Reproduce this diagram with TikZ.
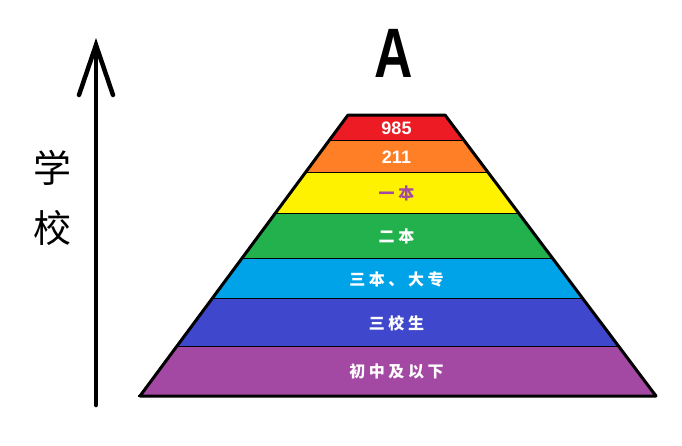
\documentclass[tikz,border=0pt]{standalone}
\usepackage{fontspec}
\setmainfont{Liberation Sans}
\newfontfamily\cjk{Noto Sans CJK SC}
\newfontfamily\cjkwide[LetterSpace=22]{Noto Sans CJK SC}
\usetikzlibrary{arrows.meta}
\definecolor{bandred}{HTML}{ED1C24}
\definecolor{bandorange}{HTML}{FF7F27}
\definecolor{bandyellow}{HTML}{FFF200}
\definecolor{bandgreen}{HTML}{22B14C}
\definecolor{bandblue}{HTML}{00A2E8}
\definecolor{bandindigo}{HTML}{3F48CC}
\definecolor{bandpurple}{HTML}{A349A4}
\tikzset{
    numtag/.style={text centered, font=\bfseries\fontsize{18}{18}\selectfont},
    hantag/.style={text centered, font=\cjkwide\bfseries\fontsize{16}{16}\selectfont},
    divider/.style={draw=black, line width=1.3pt},
    outline/.style={draw=black, line width=3pt, line join=round},
    axis/.style={line width=4.5pt, line cap=round, -{Straight Barb[length=50pt, width=34pt, line cap=round]}}
}

\begin{document}
\begin{tikzpicture}[x=1pt, y=-1pt]
    \useasboundingbox (0,0) rectangle (682,445);
    % Bands of the pyramid
    \foreach \ya/\yb/\col/\ink/\kind/\txt [count=\i] in {
        115/141/bandred/white/numtag/985,
        141/173/bandorange/white/numtag/211,
        173/214/bandyellow/bandpurple/hantag/一本,
        214/259/bandgreen/white/hantag/二本,
        259/299/bandblue/white/hantag/三本、大专,
        299/347/bandindigo/white/hantag/三校生,
        347/396/bandpurple/white/hantag/初中及以下}{
        \pgfmathsetmacro\wa{48.5+0.7456*(\ya-115)}
        \pgfmathsetmacro\wb{48.5+0.7456*(\yb-115)}
        \fill[\col] (396.5-\wa,\ya) -- (396.5+\wa,\ya) -- (396.5+\wb,\yb) -- (396.5-\wb,\yb) -- cycle;
        \draw[divider] (396.5-\wb,\yb) -- (396.5+\wb,\yb);
        \node (band\i) [\kind, text=\ink] at (396.5,{(\ya+\yb)/2}) {\txt};
    }
    \draw[outline] (348,115) -- (445,115) -- (656,396) -- (140,396) -- cycle;

    % Title and axis
    \node (title) [font=\bfseries\fontsize{70}{70}\selectfont, xscale=0.76, transform shape] at (394,53) {A};
    \coordinate (low) at (96,405);
    \coordinate (high) at (96,38);
    \draw[axis] (low) -- (high);
    \node (school) [align=center, font=\cjk\fontsize{38}{60}\selectfont] at (52,198) {学\\校};
\end{tikzpicture}
\end{document}
